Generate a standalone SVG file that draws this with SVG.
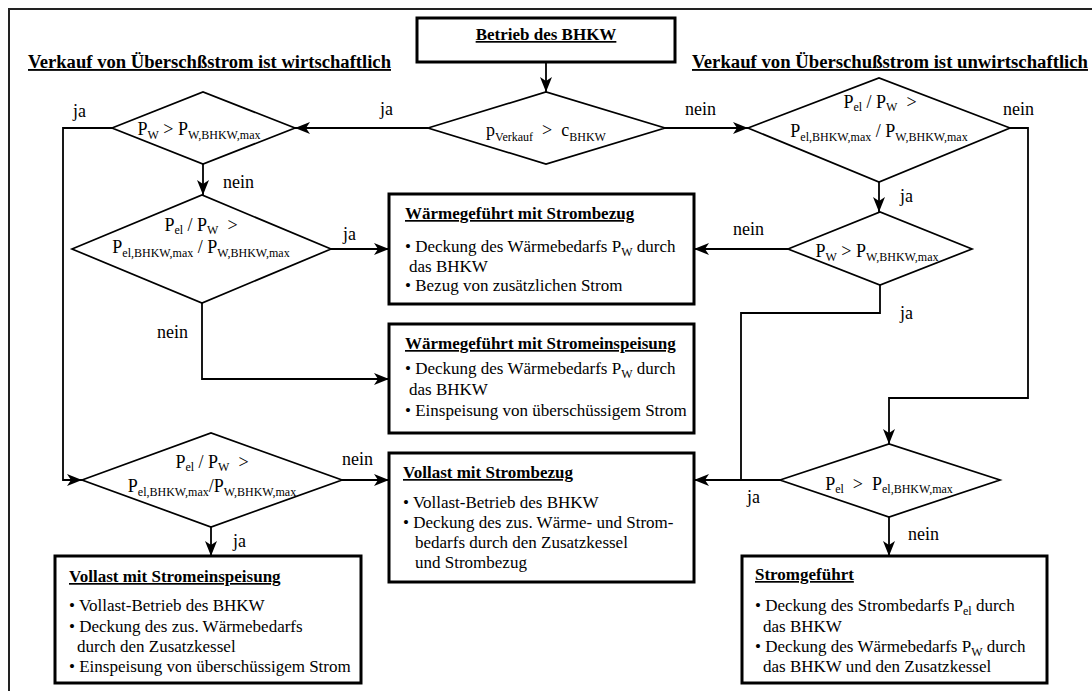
<svg xmlns="http://www.w3.org/2000/svg" width="1092" height="691" viewBox="0 0 1092 691">
<defs>
<style>
text{font-family:"Liberation Serif","Times New Roman",serif;fill:#000}
.hd{font-size:18.6px;font-weight:bold;text-decoration:underline}
.bt{font-size:17px;font-weight:bold;text-decoration:underline}
.tx{font-size:17px}
.dt{font-size:18px}
.lb{font-size:18px}
.s{font-size:12px}
.box{fill:#fff;stroke:#000;stroke-width:3}
.dia{fill:#fff;stroke:#000;stroke-width:1.7}
.ln{fill:none;stroke:#000;stroke-width:1.8}
.ar{marker-end:url(#ah)}
</style>
<marker id="ah" viewBox="0 0 15 12" refX="15" refY="6" markerWidth="15" markerHeight="12" markerUnits="userSpaceOnUse" orient="auto">
<path d="M0,0 L15,6 L0,12 L4,6 z" fill="#000"/>
</marker>
</defs>
<rect x="0" y="0" width="1092" height="691" fill="#fff"/>
<path d="M9,691 V9 H1092" fill="none" stroke="#222" stroke-width="2"/>
<text class="hd" x="28" y="68" textLength="363" lengthAdjust="spacingAndGlyphs">Verkauf von Überschßstrom ist wirtschaftlich</text>
<text class="hd" x="692" y="68" textLength="396" lengthAdjust="spacingAndGlyphs">Verkauf von Überschußstrom ist unwirtschaftlich</text>

<g id="connectors">
<path class="ln ar" d="M546,62 V92"/>
<path class="ln ar" d="M428,128 H295"/>
<path class="ln ar" d="M665,128 H748"/>
<path class="ln ar" d="M112,128 H63 V480 H82"/>
<path class="ln ar" d="M203,164 V195"/>
<path class="ln ar" d="M331,249 H389"/>
<path class="ln ar" d="M202,303 V379 H389"/>
<path class="ln ar" d="M342,480 H389"/>
<path class="ln ar" d="M211,527 V556"/>
<path class="ln ar" d="M879,182 V212"/>
<path class="ln ar" d="M1010,128 H1028 V398 H889 V444"/>
<path class="ln ar" d="M788,249 H694"/>
<path class="ln" d="M880,285 V313 H741 V480"/>
<path class="ln ar" d="M780,480 H694"/>
<path class="ln ar" d="M889,517 V556"/>
<text class="lb" x="380" y="115">ja</text>
<text class="lb" x="685" y="115">nein</text>
<text class="lb" x="73" y="117">ja</text>
<text class="lb" x="223" y="188">nein</text>
<text class="lb" x="343" y="240">ja</text>
<text class="lb" x="157" y="338">nein</text>
<text class="lb" x="342" y="465">nein</text>
<text class="lb" x="233" y="547">ja</text>
<text class="lb" x="1003" y="115">nein</text>
<text class="lb" x="900" y="202">ja</text>
<text class="lb" x="733" y="235">nein</text>
<text class="lb" x="900" y="319">ja</text>
<text class="lb" x="747" y="503">ja</text>
<text class="lb" x="908" y="540">nein</text>
</g>

<g id="start">
<rect class="box" x="417" y="18" width="258" height="44"/>
<text class="bt" x="546" y="40" text-anchor="middle">Betrieb des BHKW</text>
</g>

<g id="d1">
<polygon class="dia" points="428,128 546,92 665,128 546,164"/>
<text class="dt" x="546" y="136" text-anchor="middle">p<tspan class="s" dy="5">Verkauf</tspan><tspan dy="-5">&#160; &gt; &#160;c</tspan><tspan class="s" dy="5">BHKW</tspan></text>
</g>

<g id="d2">
<polygon class="dia" points="112,128 203,92 295,128 203,164"/>
<text class="dt" x="199" y="135" text-anchor="middle">P<tspan class="s" dy="4">W</tspan><tspan dy="-4"> &gt; P</tspan><tspan class="s" dy="4">W,BHKW,max</tspan></text>
</g>

<g id="d5">
<polygon class="dia" points="72,249 202,195 331,249 202,303"/>
<text class="dt" x="201" y="231" text-anchor="middle">P<tspan class="s" dy="3">el</tspan><tspan dy="-3"> / P</tspan><tspan class="s" dy="3">W</tspan><tspan dy="-3">&#160; &gt;</tspan></text>
<text class="dt" x="201" y="253" text-anchor="middle">P<tspan class="s" dy="4">el,BHKW,max</tspan><tspan dy="-4"> / P</tspan><tspan class="s" dy="4">W,BHKW,max</tspan></text>
</g>

<g id="d6">
<polygon class="dia" points="82,480 211,433 342,480 211,527"/>
<text class="dt" x="212" y="468" text-anchor="middle">P<tspan class="s" dy="3">el</tspan><tspan dy="-3"> / P</tspan><tspan class="s" dy="3">W</tspan><tspan dy="-3">&#160; &gt;</tspan></text>
<text class="dt" x="212" y="492" text-anchor="middle">P<tspan class="s" dy="4">el,BHKW,max</tspan><tspan dy="-4">/P</tspan><tspan class="s" dy="4">W,BHKW,max</tspan></text>
</g>

<g id="d3">
<polygon class="dia" points="748,128 879,78 1010,128 879,182"/>
<text class="dt" x="880" y="108" text-anchor="middle">P<tspan class="s" dy="3">el</tspan><tspan dy="-3"> / P</tspan><tspan class="s" dy="3">W</tspan><tspan dy="-3">&#160; &gt;</tspan></text>
<text class="dt" x="879" y="137" text-anchor="middle">P<tspan class="s" dy="4">el,BHKW,max</tspan><tspan dy="-4"> / P</tspan><tspan class="s" dy="4">W,BHKW,max</tspan></text>
</g>

<g id="d4">
<polygon class="dia" points="788,249 880,212 972,249 880,285"/>
<text class="dt" x="877" y="257" text-anchor="middle">P<tspan class="s" dy="4">W</tspan><tspan dy="-4"> &gt; P</tspan><tspan class="s" dy="4">W,BHKW,max</tspan></text>
</g>

<g id="d7">
<polygon class="dia" points="780,480 889,444 1000,480 889,517"/>
<text class="dt" x="889" y="490" text-anchor="middle">P<tspan class="s" dy="3">el</tspan><tspan dy="-3">&#160; &gt; &#160;P</tspan><tspan class="s" dy="3">el,BHKW,max</tspan></text>
</g>

<g id="box1">
<rect class="box" x="389" y="194" width="305" height="110"/>
<text class="bt" x="405" y="219">Wärmegeführt mit Strombezug</text>
<text class="tx" x="405" y="252">• Deckung des Wärmebedarfs P<tspan class="s" dy="4">W</tspan><tspan dy="-4"> durch</tspan></text>
<text class="tx" x="409" y="272">das BHKW</text>
<text class="tx" x="405" y="291">• Bezug von zusätzlichen Strom</text>
</g>

<g id="box2">
<rect class="box" x="389" y="324" width="305" height="109"/>
<text class="bt" x="405" y="349">Wärmegeführt mit Stromeinspeisung</text>
<text class="tx" x="405" y="374">• Deckung des Wärmebedarfs P<tspan class="s" dy="4">W</tspan><tspan dy="-4"> durch</tspan></text>
<text class="tx" x="409" y="395">das BHKW</text>
<text class="tx" x="405" y="416">• Einspeisung von überschüssigem Strom</text>
</g>

<g id="box3">
<rect class="box" x="389" y="453" width="305" height="129"/>
<text class="bt" x="403" y="478">Vollast mit Strombezug</text>
<text class="tx" x="403" y="508">• Vollast-Betrieb des BHKW</text>
<text class="tx" x="403" y="528">• Deckung des zus. Wärme- und Strom-</text>
<text class="tx" x="415" y="548">bedarfs durch den Zusatzkessel</text>
<text class="tx" x="415" y="568">und Strombezug</text>
</g>

<g id="box4">
<rect class="box" x="55" y="556" width="306" height="127"/>
<text class="bt" x="69" y="582">Vollast mit Stromeinspeisung</text>
<text class="tx" x="69" y="611">• Vollast-Betrieb des BHKW</text>
<text class="tx" x="69" y="632">• Deckung des zus. Wärmebedarfs</text>
<text class="tx" x="77" y="652">durch den Zusatzkessel</text>
<text class="tx" x="69" y="672">• Einspeisung von überschüssigem Strom</text>
</g>

<g id="box5">
<rect class="box" x="742" y="556" width="305" height="127"/>
<text class="bt" x="755" y="580">Stromgeführt</text>
<text class="tx" x="755" y="611">• Deckung des Strombedarfs P<tspan class="s" dy="4">el</tspan><tspan dy="-4"> durch</tspan></text>
<text class="tx" x="763" y="632">das BHKW</text>
<text class="tx" x="755" y="652">• Deckung des Wärmebedarfs P<tspan class="s" dy="4">W</tspan><tspan dy="-4"> durch</tspan></text>
<text class="tx" x="763" y="672">das BHKW und den Zusatzkessel</text>
</g>
</svg>
